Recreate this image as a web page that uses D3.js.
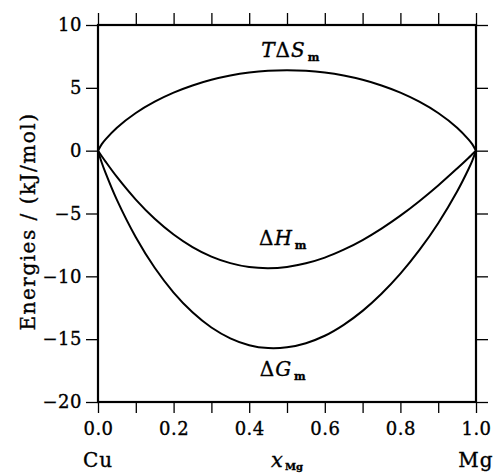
<!DOCTYPE html>
<html>
<head>
<meta charset="utf-8">
<script src="https://cdn.jsdelivr.net/npm/d3@7"></script>
<style>
  body { margin: 0; background: #fff; }
  svg text { font-family: "DejaVu Serif", serif; fill: #000; stroke: #000; stroke-width: 0.35px; }
</style>
</head>
<body>
<div id="chart"></div>
<script>
// composition grid (x_Mg) and energies in kJ/mol
const xMg = [0, 0.01, 0.02, 0.05, 0.1, 0.15, 0.2, 0.25, 0.3, 0.35, 0.4, 0.45, 0.5,
  0.55, 0.6, 0.65, 0.7, 0.75, 0.8, 0.85, 0.9, 0.95, 0.98, 0.99, 1];
const tdS = [0, 0.52, 0.90, 1.83, 3.00, 3.90, 4.62, 5.19, 5.64, 5.98, 6.22, 6.36, 6.40,
  6.36, 6.22, 5.98, 5.64, 5.19, 4.62, 3.90, 3.00, 1.83, 0.90, 0.52, 0];
const dH = [0, -0.44, -0.87, -2.09, -3.89, -5.42, -6.67, -7.67, -8.43, -8.95, -9.26, -9.35, -9.25,
  -8.96, -8.51, -7.88, -7.11, -6.20, -5.17, -4.02, -2.77, -1.42, -0.58, -0.29, 0];
const dG = [0, -0.96, -1.77, -3.92, -6.89, -9.32, -11.29, -12.86, -14.07, -14.93, -15.48, -15.71, -15.65,
  -15.32, -14.73, -13.86, -12.75, -11.39, -9.79, -7.92, -5.77, -3.25, -1.48, -0.81, 0];

const xTicks = [0, 0.1, 0.2, 0.3, 0.4, 0.5, 0.6, 0.7, 0.8, 0.9, 1.0];
const yTicks = [-20, -15, -10, -5, 0, 5, 10];

const margin = { top: 25, right: 17, bottom: 71, left: 98 };
const width = 493 - margin.left - margin.right;
const height = 473 - margin.top - margin.bottom;

const svg = d3.select("#chart").append("svg")
  .attr("width", 493)
  .attr("height", 473);
const g = svg.append("g")
  .attr("transform", `translate(${margin.left},${margin.top})`);

const x = d3.scaleLinear().domain([0, 1]).range([0, width]);
const y = d3.scaleLinear().domain([-20, 10]).range([height, 0]);

const fmtX = d => (Math.round(d * 10) % 2 === 0) ? d3.format(".1f")(d) : "";

function styleAxis(sel) {
  sel.selectAll(".domain").remove();
  sel.selectAll(".tick line").attr("stroke", "#000").attr("stroke-width", 1.3);
  sel.selectAll(".tick text")
    .attr("font-size", "18px")
    .attr("fill", "#000")
    .attr("letter-spacing", "0.5px")
    .style("font-family", "'DejaVu Serif', serif");
}

g.append("g")
  .attr("transform", `translate(0,${height})`)
  .call(d3.axisBottom(x).tickValues(xTicks).tickFormat(fmtX).tickSize(11).tickPadding(9))
  .call(styleAxis);
g.append("g")
  .call(d3.axisTop(x).tickValues(xTicks).tickFormat("").tickSize(12))
  .call(styleAxis);
g.append("g")
  .call(d3.axisLeft(y).tickValues(yTicks).tickSize(12).tickPadding(4))
  .call(styleAxis);
g.append("g")
  .attr("transform", `translate(${width},0)`)
  .call(d3.axisRight(y).tickValues(yTicks).tickFormat("").tickSize(12))
  .call(styleAxis);

// frame
g.append("rect")
  .attr("width", width)
  .attr("height", height)
  .attr("fill", "none")
  .attr("stroke", "#000")
  .attr("stroke-width", 2.2);

const line = d3.line()
  .x((d, i) => x(xMg[i]))
  .y(d => y(d))
  .curve(d3.curveCatmullRom.alpha(0.5));

[tdS, dH, dG].forEach(s => {
  g.append("path")
    .datum(s)
    .attr("fill", "none")
    .attr("stroke", "#000")
    .attr("stroke-width", 2)
    .attr("d", line);
});

// curve labels
function curveLabel(cx, cy, pre, italicLetter) {
  const t = g.append("text")
    .attr("x", cx)
    .attr("y", cy)
    .attr("text-anchor", "middle")
    .attr("font-size", "20px")
    .attr("letter-spacing", "1px");
  pre.forEach(p => t.append("tspan").attr("font-style", p.it ? "italic" : "normal").text(p.s));
  t.append("tspan").attr("font-style", "italic").text(italicLetter);
  t.append("tspan").attr("font-size", "11px").attr("font-weight", "bold").attr("dx", 2).attr("dy", 4).text("m");
}
curveLabel(x(0.51), y(7.45), [{ s: "T", it: true }, { s: "Δ", it: false }], "S");
curveLabel(x(0.49), y(-7.5), [{ s: "Δ", it: false }], "H");
curveLabel(x(0.49), y(-17.9), [{ s: "Δ", it: false }], "G");

// axis titles
svg.append("text")
  .attr("transform", `translate(35,${margin.top + height / 2 + 8}) rotate(-90)`)
  .attr("text-anchor", "middle")
  .attr("font-size", "20px")
  .attr("letter-spacing", "1.5px")
  .text("Energies / (kJ/mol)");

const xt = svg.append("text")
  .attr("x", margin.left + x(0.5))
  .attr("y", 467)
  .attr("text-anchor", "middle")
  .attr("font-size", "21px");
xt.append("tspan").attr("font-style", "italic").text("x");
xt.append("tspan").attr("font-size", "10px").attr("font-weight", "bold").attr("dx", 2).attr("dy", 3).text("Mg");

svg.append("text")
  .attr("x", margin.left + x(0))
  .attr("y", 467)
  .attr("text-anchor", "middle")
  .attr("font-size", "20px")
  .attr("letter-spacing", "1px")
  .text("Cu");
svg.append("text")
  .attr("x", margin.left + x(1))
  .attr("y", 467)
  .attr("text-anchor", "middle")
  .attr("font-size", "20px")
  .attr("letter-spacing", "1px")
  .text("Mg");
</script>
</body>
</html>
